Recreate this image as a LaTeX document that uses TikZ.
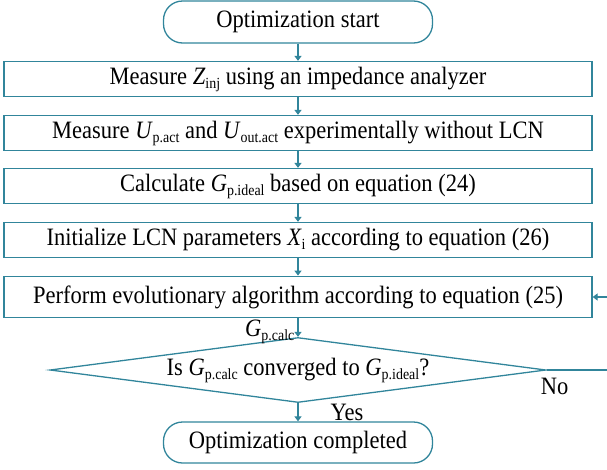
\documentclass[tikz,border=0pt]{standalone}
\usepackage{fontspec}
\setmainfont{Liberation Serif}[FakeStretch=0.9]
\usetikzlibrary{shapes.geometric,arrows.meta}
\definecolor{lc}{RGB}{49,133,155}
\newcommand\sbs[1]{\raisebox{-0.35ex}{\fontsize{15.5}{16}\selectfont #1}}
\begin{document}
\begin{tikzpicture}[x=1pt,y=-1pt, font=\fontsize{25}{28}\selectfont,
  boxstyle/.style={draw=lc, line width=1.3pt, minimum width=588pt, minimum height=35pt, inner sep=0pt},
  term/.style={draw=lc, line width=1.3pt, rounded corners=19pt, minimum width=269pt, minimum height=42pt, inner sep=0pt},
  dec/.style={draw=lc, line width=1.3pt, diamond, aspect=7.6, minimum width=496pt, minimum height=65pt, inner sep=0pt},
  conn/.style={draw=lc, line width=1.3pt, -{Triangle[length=5pt,width=7pt]}},
  link/.style={draw=lc, line width=1.3pt}]
\useasboundingbox (0,0) rectangle (607,469);
\node[term] (start) at (298,22) {Optimization start};
\node[boxstyle] (b1) at (298,79) {Measure \textit{Z}\sbs{inj} using an impedance analyzer};
\node[boxstyle] (b2) at (298,133) {Measure \textit{U}\sbs{p.act} and \textit{U}\sbs{out.act} experimentally without LCN};
\node[boxstyle] (b3) at (298,186) {Calculate \textit{G}\sbs{p.ideal} based on equation (24)};
\node[boxstyle] (b4) at (298,240) {Initialize LCN parameters \textit{X}\sbs{i} according to equation (26)};
\node[boxstyle, minimum height=41.5pt] (b5) at (298,297) {Perform evolutionary algorithm according to equation (25)};
\node[dec] (dec) at (298,370) {Is \textit{G}\sbs{p.calc} converged to \textit{G}\sbs{p.ideal}?};
\node[term, minimum height=41pt] (end) at (298,442.5) {Optimization completed};
\coordinate (r1) at (607,370);
\coordinate (r2) at (607,297);
\draw[conn] (start) -- (b1);
\draw[conn] (b1) -- (b2);
\draw[conn] (b2) -- (b3);
\draw[conn] (b3) -- (b4);
\draw[conn] (b4) -- (b5);
\draw[conn] (b5) -- node[left, inner sep=3pt, yshift=-4pt] (gl) {\textit{G}\sbs{p.calc}} (dec);
\draw[conn] (dec) -- node[right, inner sep=0pt, xshift=32pt] (yl) {Yes} (end);
\draw[link] (dec.east) -- (r1);
\draw[conn] (r2) -- (b5.east);
\node (nl) at (554.5,386) {No};
\end{tikzpicture}
\end{document}
